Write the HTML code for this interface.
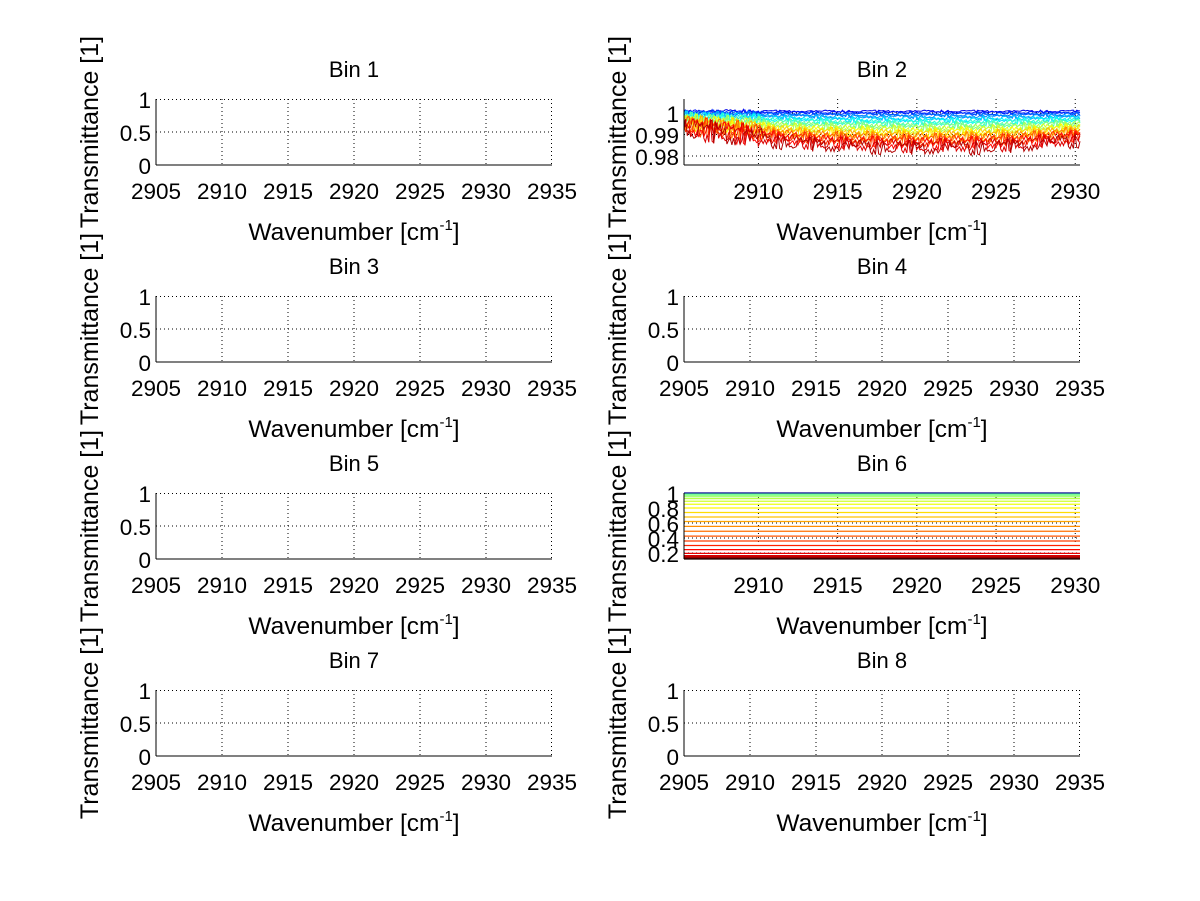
<!DOCTYPE html>
<html><head><meta charset="utf-8">
<style>
html,body{margin:0;padding:0;background:#fff;}
svg{display:block;font-family:"Liberation Sans",sans-serif;}
</style></head>
<body>
<svg id="fig" width="1200" height="901" viewBox="0 0 1200 901"></svg>
<script>
// ---- data ----
const emptyXTicks = [2905, 2910, 2915, 2920, 2925, 2930, 2935];
const emptyYTicks = [0, 0.5, 1];
const bin2XTicks = [2910, 2915, 2920, 2925, 2930];
const bin2YTicks = [0.98, 0.99, 1];
const bin6XTicks = [2910, 2915, 2920, 2925, 2930];
const bin6YTicks = [0.2, 0.4, 0.6, 0.8, 1];
// Bin 2 curves: mean level per curve (top blue → bottom red)
const bin2Levels = [1.0008, 1.0004, 1.0000, 0.9996, 0.9991, 0.9986, 0.9980, 0.9975, 0.9970, 0.9964, 0.9958, 0.9952, 0.9946, 0.9940, 0.9934, 0.9928, 0.9922, 0.9916, 0.9910, 0.9903, 0.9896, 0.9889];
// relative depth shape along wavenumber (2905.3 → 2930.3), 26 samples
const bin2Shape = [-0.6, -0.4, -0.3, -0.1, 0.0, 0.2, 0.35, 0.45, 0.55, 0.6, 0.65, 0.7, 0.72, 0.75, 0.78, 0.8, 0.78, 0.75, 0.78, 0.72, 0.7, 0.65, 0.55, 0.45, 0.35, 0.25];
// noise profile (unitless), repeated pattern
const bin2Noise = [0.3,-0.5,0.8,-0.2,0.4,-0.9,0.1,0.6,-0.4,0.2,-0.7,0.5,0.9,-0.3,0.0,-0.6,0.7,-0.1,0.3,-0.8,0.6,0.2,-0.5,0.4,-0.2,0.8,-0.9,0.1,0.5,-0.4,0.3,-0.6,0.9,-0.1,0.2,-0.7,0.4,0.6,-0.3,-0.8,0.7,0.0,-0.4,0.5,-0.6,0.2,0.8,-0.5,0.1,-0.2,0.6,-0.9,0.3,0.4,-0.1,0.7,-0.7,0.2,-0.3,0.5];
// Bin 6 curve levels (top → bottom)
const bin6Levels = [1.0, 0.985, 0.97, 0.95, 0.925, 0.89, 0.85, 0.80, 0.74, 0.68, 0.62, 0.555, 0.49, 0.425, 0.36, 0.30, 0.245, 0.195, 0.16, 0.14, 0.13, 0.125];

const svg = document.getElementById('fig');
const NS = 'http://www.w3.org/2000/svg';
function mk(tag, attrs, parent){
  const e = document.createElementNS(NS, tag);
  for (const k in attrs) e.setAttribute(k, attrs[k]);
  (parent||svg).appendChild(e);
  return e;
}
function jet(t){
  const r = Math.min(1, Math.max(0, 1.5 - Math.abs(4*t - 3)));
  const g = Math.min(1, Math.max(0, 1.5 - Math.abs(4*t - 2)));
  const b = Math.min(1, Math.max(0, 1.5 - Math.abs(4*t - 1)));
  return `rgb(${Math.round(r*255)},${Math.round(g*255)},${Math.round(b*255)})`;
}

const colX = [156, 684];
const W = 396;
const rowY = [99, 296, 493, 690];
const H = 66;

function panel(idx, col, row, xmin, xmax, ymin, ymax, xt, yt){
  const x0 = colX[col], y0 = rowY[row];
  const g = mk('g', {});
  
  
  const sx = v => x0 + (v - xmin) / (xmax - xmin) * W;
  const sy = v => y0 + H - (v - ymin) / (ymax - ymin) * H;
  mk('rect', {x:x0, y:y0, width:W, height:H, fill:'#fff'}, g);
  const grid = mk('g', {stroke:'#000', 'stroke-width':1, 'stroke-dasharray':'1,3'}, g);
  
  
  xt.forEach(v => { if (v > xmin && v <= xmax) mk('line', {x1:Math.min(sx(v), x0+W-0.5), x2:Math.min(sx(v), x0+W-0.5), y1:y0, y2:y0+H}, grid); });
  yt.forEach(v => { if (v > ymin && v <= ymax) mk('line', {x1:x0, x2:x0+W, y1:Math.max(sy(v), y0+0.5), y2:Math.max(sy(v), y0+0.5)}, grid); });
  const plot = mk('g', {}, g);
  mk('line', {x1:x0, x2:x0, y1:y0, y2:y0+H, stroke:'#000', 'stroke-width':1}, g);
  mk('line', {x1:x0, x2:x0+W, y1:y0+H, y2:y0+H, stroke:'#000', 'stroke-width':1}, g);
  xt.forEach(v => {
    const t = mk('text', {x:sx(v), y:y0+H+34, 'font-size':22.5, 'text-anchor':'middle'}, g);
    t.textContent = v;
    
    
  });
  yt.forEach(v => {
    const t = mk('text', {x:x0-5, y:sy(v)+9, 'font-size':22.5, 'text-anchor':'end'}, g);
    t.textContent = v;
    
    
  });
  const ti = mk('text', {x:x0+W/2, y:y0-22, 'font-size':22, 'text-anchor':'middle'}, g);
  ti.textContent = 'Bin ' + idx;
  
  
  const xl = mk('text', {x:x0+W/2, y:y0+H+75, 'font-size':24.5, 'text-anchor':'middle'}, g);
  xl.innerHTML = 'Wavenumber [cm<tspan dy="-10" font-size="15">-1</tspan><tspan dy="10">]</tspan>';
  
  
  const yx = x0 - 58, yy = y0 + H/2;
  const yl = mk('text', {x:yx, y:yy, 'font-size':25, 'text-anchor':'middle', transform:`rotate(-90 ${yx} ${yy})`}, g);
  yl.textContent = 'Transmittance [1]';
  
  
  return {sx, sy, plot};
}

[[1,0,0],[3,0,1],[4,1,1],[5,0,2],[7,0,3],[8,1,3]].forEach(([i,c,r]) => {
  panel(i, c, r, 2905, 2935, 0, 1, emptyXTicks, emptyYTicks);
});

// Bin 2
(function(){
  const xmin = 2905.3, xmax = 2930.3;
  const p = panel(2, 1, 0, xmin, xmax, 0.9758, 1.0065, bin2XTicks, bin2YTicks);
  const N = 240;
  bin2Levels.forEach((lev, i) => {
    const t = i / (bin2Levels.length - 1);
    const depth = 1.0008 - lev;
    let d = '';
    for (let k = 0; k <= N; k++) {
      const f = k / N;
      const wn = xmin + f * (xmax - xmin);
      const sp = f * (bin2Shape.length - 1);
      const a = Math.floor(sp), b = Math.min(a + 1, bin2Shape.length - 1);
      const shape = bin2Shape[a] + (bin2Shape[b] - bin2Shape[a]) * (sp - a);
      const nz = bin2Noise[(k * 7 + i * 13) % bin2Noise.length];
      const earlyBoost = f < 0.2 ? 1.6 : 1;
      const v = lev - depth * 0.55 * shape + (0.0006 + depth * 0.28) * nz * earlyBoost;
      d += (k ? 'L' : 'M') + p.sx(wn).toFixed(1) + ',' + p.sy(v).toFixed(1);
    }
    const path = mk('path', {d, fill:'none', stroke:jet(0.1 + t * 0.85), 'stroke-width':1}, p.plot);
    
    
  });
})();

// Bin 6
(function(){
  const xmin = 2905.3, xmax = 2930.3;
  const p = panel(6, 1, 2, xmin, xmax, 0.12, 1.0, bin6XTicks, bin6YTicks);
  bin6Levels.forEach((lev, i) => {
    const t = i / (bin6Levels.length - 1);
    const col = i === 0 ? '#00008f' : jet(0.45 + t * 0.55);
    const path = mk('line', {x1:p.sx(xmin), x2:p.sx(xmax), y1:p.sy(lev), y2:p.sy(lev), stroke:col, 'stroke-width': i > 17 ? 2 : 1.2}, p.plot);
    
    
  });
})();
</script>
</body></html>
